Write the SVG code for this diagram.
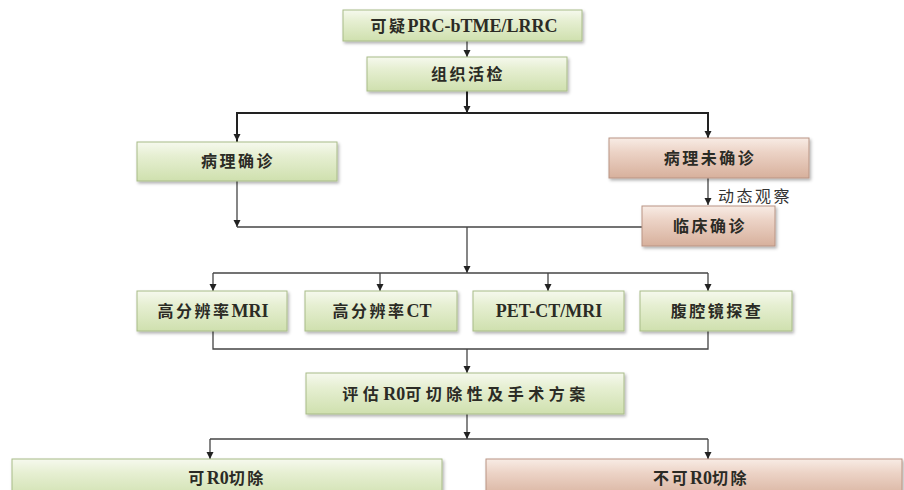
<svg xmlns="http://www.w3.org/2000/svg" width="904" height="490" viewBox="0 0 904 490">
<style>
.g{fill:url(#gg);stroke:#a8bb88;stroke-width:1;filter:url(#sh)}
.p{fill:url(#pg);stroke:#b99484;stroke-width:1;filter:url(#sh)}
.t{font-family:"Liberation Serif","Noto Sans CJK SC",serif;font-weight:bold;font-size:16px;letter-spacing:2.5px;fill:#2b2b25;text-anchor:middle}
.l{font-family:"Liberation Serif",serif;font-size:18px;letter-spacing:0}
.c{fill:none;stroke:#444;stroke-width:1.3}
.ct{fill:none;stroke:#222;stroke-width:2}
.lab{font-family:"Noto Sans CJK SC",sans-serif;font-size:16px;letter-spacing:2.5px;fill:#333}
</style>
<defs>
<linearGradient id="gg" x1="0" y1="0" x2="0" y2="1">
<stop offset="0" stop-color="#f6f9ee"/>
<stop offset="0.35" stop-color="#e6efd2"/>
<stop offset="1" stop-color="#cfe0ae"/>
</linearGradient>
<linearGradient id="pg" x1="0" y1="0" x2="0" y2="1">
<stop offset="0" stop-color="#f8ece5"/>
<stop offset="0.35" stop-color="#ecd3c6"/>
<stop offset="1" stop-color="#d7b09c"/>
</linearGradient>
<filter id="sh" x="-5%" y="-20%" width="110%" height="150%">
<feDropShadow dx="1.5" dy="2" stdDeviation="1.5" flood-color="#000" flood-opacity="0.3"/>
</filter>
<marker id="a" markerWidth="8" markerHeight="8" refX="7" refY="4" orient="auto" markerUnits="userSpaceOnUse">
<path d="M0,0.5 L7,4 L0,7.5 Z" fill="#222"/>
</marker>
</defs>
<g id="connectors">
<path class="c" d="M467,41 V57" marker-end="url(#a)"/>
<path class="ct" d="M467,91 V113" marker-end="url(#a)"/>
<path class="ct" d="M237,142 V113 H708 V138" marker-end="url(#a)"/>
<path class="ct" d="M237,113 V141" marker-end="url(#a)"/>
<path class="c" d="M237,181 V227" marker-end="url(#a)"/>
<path class="c" d="M237,227 H642"/>
<path class="c" d="M708,178 V205" marker-end="url(#a)"/>
<path class="c" d="M467,227 V273" marker-end="url(#a)"/>
<path class="c" d="M213,273 H708"/>
<path class="c" d="M213,273 V291" marker-end="url(#a)"/>
<path class="c" d="M380,273 V291" marker-end="url(#a)"/>
<path class="c" d="M548,273 V291" marker-end="url(#a)"/>
<path class="c" d="M708,273 V291" marker-end="url(#a)"/>
<path class="c" d="M213,331 V349 H708 V331"/>
<path class="c" d="M467,349 V373" marker-end="url(#a)"/>
<path class="c" d="M467,414 V439" marker-end="url(#a)"/>
<path class="c" d="M210,439 H708"/>
<path class="c" d="M210,439 V459" marker-end="url(#a)"/>
<path class="c" d="M708,439 V459" marker-end="url(#a)"/>
<text class="lab" x="718" y="202">动态观察</text>
</g>
<g id="n1"><rect class="g" x="343" y="10" width="239" height="31"/><text class="t" x="464" y="32">可疑<tspan class="l">PRC-bTME/LRRC</tspan></text></g>
<g id="n2"><rect class="g" x="367" y="57" width="200" height="34"/><text class="t" x="468" y="80">组织活检</text></g>
<g id="n3"><rect class="g" x="137" y="142" width="200" height="39"/><text class="t" x="238" y="167">病理确诊</text></g>
<g id="n4"><rect class="p" x="609" y="138" width="200" height="40"/><text class="t" x="710" y="164">病理未确诊</text></g>
<g id="n5"><rect class="p" x="642" y="206" width="133" height="40"/><text class="t" x="710" y="232">临床确诊</text></g>
<g id="n6"><rect class="g" x="137" y="291" width="150" height="40"/><text class="t" x="213" y="317">高分辨率<tspan class="l">MRI</tspan></text></g>
<g id="n7"><rect class="g" x="305" y="291" width="152" height="40"/><text class="t" x="382" y="317">高分辨率<tspan class="l">CT</tspan></text></g>
<g id="n8"><rect class="g" x="473" y="291" width="151" height="40"/><text class="t" x="549" y="317"><tspan class="l">PET-CT/MRI</tspan></text></g>
<g id="n9"><rect class="g" x="640" y="291" width="152" height="40"/><text class="t" x="717" y="317">腹腔镜探查</text></g>
<g id="n10"><rect class="g" x="306" y="373" width="318" height="41"/><text class="t" x="466" y="400" style="letter-spacing:4.5px">评估<tspan class="l">R0</tspan>可切除性及手术方案</text></g>
<g id="n11"><rect class="g" x="12" y="459" width="430" height="40"/><text class="t" x="227" y="484">可<tspan class="l">R0</tspan>切除</text></g>
<g id="n12"><rect class="p" x="486" y="459" width="416" height="40"/><text class="t" x="701" y="484">不可<tspan class="l">R0</tspan>切除</text></g>
</svg>
